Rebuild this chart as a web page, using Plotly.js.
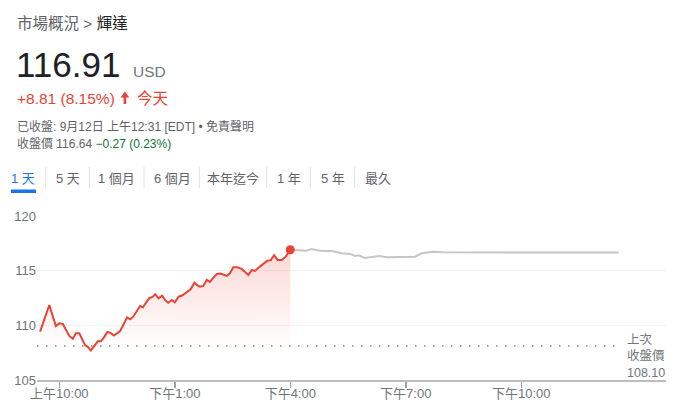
<!DOCTYPE html>
<html>
<head>
<meta charset="utf-8">
<script src="https://cdn.plot.ly/plotly-3.0.1.min.js"></script>
<style>html,body{margin:0;padding:0;background:#fff;}#chart{width:693px;height:414px;}</style>
</head>
<body>
<div id="chart"></div>
<script>
// ---- data (hours since midnight, 9/11) ----
const sessionHours = [9.50,9.74,9.91,10.0,10.09,10.26,10.35,10.43,10.52,10.67,10.73,10.82,11.0,11.08,11.16,11.25,11.32,11.42,11.58,11.68,11.76,11.84,11.92,12.10,12.17,12.33,12.43,12.49,12.58,12.67,12.75,12.83,12.92,13.0,13.10,13.20,13.31,13.41,13.51,13.57,13.65,13.74,13.83,13.91,14.09,14.19,14.35,14.43,14.52,14.62,14.74,14.91,15.0,15.08,15.21,15.40,15.49,15.58,15.67,15.78,15.88,16.0];
const sessionPrices = [109.42,111.86,109.94,110.18,110.12,109.03,108.78,109.27,109.27,108.17,108.05,107.71,108.54,108.54,108.90,109.39,109.33,109.06,109.48,110.18,110.73,110.55,110.79,111.77,111.65,112.47,112.62,112.84,112.47,112.71,112.32,112.07,112.32,112.10,112.62,112.75,113.02,113.29,113.90,113.69,113.54,113.60,114.15,113.97,114.70,114.73,114.52,114.76,115.31,115.31,115.16,114.61,115.06,114.97,115.37,115.92,115.95,116.41,115.98,115.98,116.28,116.91];
const afterHours = [16.0,16.24,16.42,16.55,16.77,17.12,17.33,17.55,17.68,17.77,17.94,18.11,18.33,18.50,18.76,19.02,19.24,19.41,19.71,19.97,21.0,22.0,23.0,24.0,24.53];
const afterPrices = [116.91,116.89,116.83,116.98,116.83,116.77,116.59,116.53,116.34,116.41,116.16,116.25,116.34,116.22,116.25,116.28,116.28,116.59,116.74,116.68,116.67,116.67,116.66,116.66,116.66];
const prevClose = 108.10;
const tickHours = [10,13,16,19,22];
const tickLabels = ['上午10:00','下午1:00','下午4:00','下午7:00','下午10:00'];
const yTicks = [105,110,115,120];
const tabLabels = ['1 天','5 天','1 個月','6 個月','本年迄今','1 年','5 年','最久'];

// ---- layout helpers (pixel -> paper) ----
const W = 693, H = 414, L = 37, R = 27, T = 216, B = 34;
const PW = W - L - R, PH = H - T - B;
const px = x => (x - L) / PW;
const py = y => (H - B - y) / PH;

const FONT = 'Arial, "Liberation Sans", "Noto Sans CJK TC", sans-serif';
const GRAY = '#70757a';
const RED = '#ea4335';

const traces = [
  {
    x: afterHours, y: afterPrices, type: 'scatter', mode: 'lines',
    line: {color: '#c6c6c6', width: 2}, hoverinfo: 'skip', cliponaxis: false
  },
  {
    x: sessionHours, y: sessionPrices, type: 'scatter', mode: 'lines',
    line: {color: RED, width: 2}, fill: 'tozeroy',
    fillgradient: {type: 'vertical', start: 108, stop: 117.5,
      colorscale: [[0, 'rgba(234,67,53,0)'], [1, 'rgba(234,67,53,0.22)']]},
    hoverinfo: 'skip', cliponaxis: false
  },
  {
    x: [sessionHours[sessionHours.length - 1]], y: [sessionPrices[sessionPrices.length - 1]],
    type: 'scatter', mode: 'markers', marker: {color: RED, size: 9},
    hoverinfo: 'skip', cliponaxis: false
  }
];

const annotations = [];
function txt(text, x, y, size, color, xanchor, extra) {
  annotations.push(Object.assign({
    text: text, xref: 'paper', yref: 'paper', x: px(x), y: py(y),
    xanchor: xanchor || 'left', yanchor: 'middle', showarrow: false,
    font: {family: FONT, size: size, color: color}
  }, extra || {}));
}
txt('市場概況 &gt; <span style="color:#202124">輝達</span>', 15, 24, 15.5, '#5f6368');
txt('116.91', 14, 64, 35, '#202124');
txt('USD', 130.5, 71, 15.5, GRAY);
txt('+8.81 (8.15%)', 14.5, 98, 15.5, RED);
txt('今天', 134.5, 98, 15.5, RED);
txt('已收盤: 9月12日 上午12:31 [EDT] • 免責聲明', 14.5, 126, 12, '#5f6368');
txt('收盤價 116.64 <span style="color:#137333">−0.27 (0.23%)</span>', 14.5, 144, 12, '#5f6368');
txt('上次<br>收盤價<br>108.10', 625, 356, 12.5, GRAY, 'left', {align: 'left'});

const tabCenters = [23, 67.5, 116.5, 172, 233, 288.5, 332.5, 378];
tabLabels.forEach((t, i) => {
  txt(t, tabCenters[i], 178, 13, i === 0 ? '#1a73e8' : '#5f6368', 'center');
});

const shapes = [];
[45.7, 89.3, 144, 199.3, 266.7, 310.3, 354.7].forEach(x => {
  shapes.push({type: 'line', xref: 'paper', yref: 'paper', x0: px(x), x1: px(x),
    y0: py(167), y1: py(188), line: {color: '#e0e0e0', width: 1}});
});
shapes.push({type: 'rect', xref: 'paper', yref: 'paper', x0: px(11), x1: px(36),
  y0: py(193), y1: py(189.5), fillcolor: '#1a73e8', line: {width: 0}});
// up arrow icon
const ax0 = px(120.5), ax1 = px(129.3), axm = px(124.9), sx0 = px(123.6), sx1 = px(126.2);
const ay0 = py(91.5), ay1 = py(97.5), ay2 = py(104);
shapes.push({type: 'path', xref: 'paper', yref: 'paper',
  path: `M ${ax0} ${ay1} L ${axm} ${ay0} L ${ax1} ${ay1} L ${sx1} ${ay1} L ${sx1} ${ay2} L ${sx0} ${ay2} L ${sx0} ${ay1} Z`,
  fillcolor: RED, line: {width: 0}});
shapes.push({type: 'line', xref: 'x', yref: 'y', x0: 9.42, x1: 24.53, y0: prevClose, y1: prevClose,
  line: {color: '#80868b', width: 1.5, dash: '1.5px,7.5px'}});

const layout = {
  width: W, height: H,
  margin: {l: L, r: R, t: T, b: B, pad: 0},
  paper_bgcolor: '#fff', plot_bgcolor: '#fff',
  showlegend: false,
  font: {family: FONT},
  xaxis: {
    range: [9.42, 25.76], tickvals: tickHours, ticktext: tickLabels,
    ticks: 'outside', ticklen: 6, tickwidth: 1.5, tickcolor: '#9aa0a6',
    ticklabelstandoff: -6,
    showline: true, linecolor: '#bdbdbd', linewidth: 2,
    showgrid: false, zeroline: false, fixedrange: true,
    tickfont: {family: FONT, size: 13, color: GRAY}
  },
  yaxis: {
    range: [105, 120], tickvals: yTicks, ticks: '',
    showline: false, zeroline: false, showgrid: true, gridcolor: '#f1f3f4', gridwidth: 1,
    tickfont: {family: FONT, size: 13, color: GRAY}, ticklabelstandoff: 0, fixedrange: true
  },
  annotations: annotations,
  shapes: shapes
};

Plotly.newPlot('chart', traces, layout, {displayModeBar: false, staticPlot: true});
</script>
</body>
</html>
